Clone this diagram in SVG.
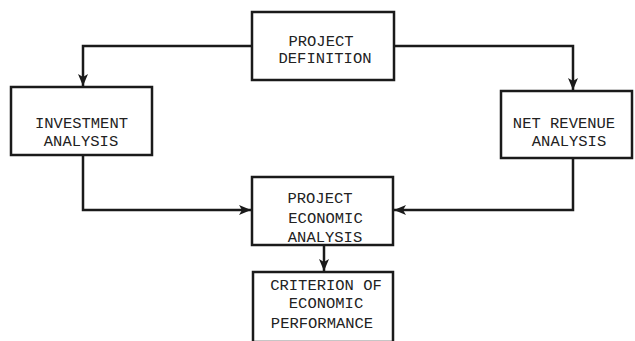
<svg xmlns="http://www.w3.org/2000/svg" width="635" height="341" viewBox="0 0 635 341">
<style>
.box{fill:#fff;stroke:#1a1a1a;stroke-width:2.5}
.t{font-family:"Liberation Mono","DejaVu Sans Mono",monospace;font-size:15.5px;fill:#222;text-anchor:middle}
.c{fill:none;stroke:#1a1a1a;stroke-width:2.5}
</style>
<defs>
<marker id="ah" viewBox="0 0 12 10" refX="12" refY="5" markerWidth="12" markerHeight="10" markerUnits="userSpaceOnUse" orient="auto">
<path d="M0,0 L12,5 L0,10 L3,5 Z" fill="#1a1a1a"/>
</marker>
</defs>
<rect width="635" height="341" fill="#fff"/>
<g id="connectors">
<path class="c" d="M252,46 H83 V86" marker-end="url(#ah)"/>
<path class="c" d="M394,46 H573 V90" marker-end="url(#ah)"/>
<path class="c" d="M83,155 V210 H251" marker-end="url(#ah)"/>
<path class="c" d="M573,158 V210 H394" marker-end="url(#ah)"/>
<path class="c" d="M324,245 V271" marker-end="url(#ah)"/>
</g>
<g id="project-definition">
<rect class="box" x="252" y="12" width="142" height="68"/>
<text class="t" x="321" y="46">PROJECT</text>
<text class="t" x="325" y="63">DEFINITION</text>
</g>
<g id="investment-analysis">
<rect class="box" x="11" y="87" width="141" height="68"/>
<text class="t" x="81.5" y="128">INVESTMENT</text>
<text class="t" x="81" y="146">ANALYSIS</text>
</g>
<g id="net-revenue-analysis">
<rect class="box" x="501" y="91" width="131" height="67"/>
<text class="t" x="564" y="128">NET REVENUE</text>
<text class="t" x="569" y="146">ANALYSIS</text>
</g>
<g id="project-economic-analysis">
<rect class="box" x="252" y="177" width="141" height="68"/>
<text class="t" x="320" y="203">PROJECT</text>
<text class="t" x="325.5" y="223">ECONOMIC</text>
<text class="t" x="325" y="242">ANALYSIS</text>
</g>
<g id="criterion">
<rect class="box" x="253" y="272" width="140" height="70"/>
<text class="t" x="326" y="290">CRITERION OF</text>
<text class="t" x="326" y="308">ECONOMIC</text>
<text class="t" x="322" y="328">PERFORMANCE</text>
</g>
</svg>
